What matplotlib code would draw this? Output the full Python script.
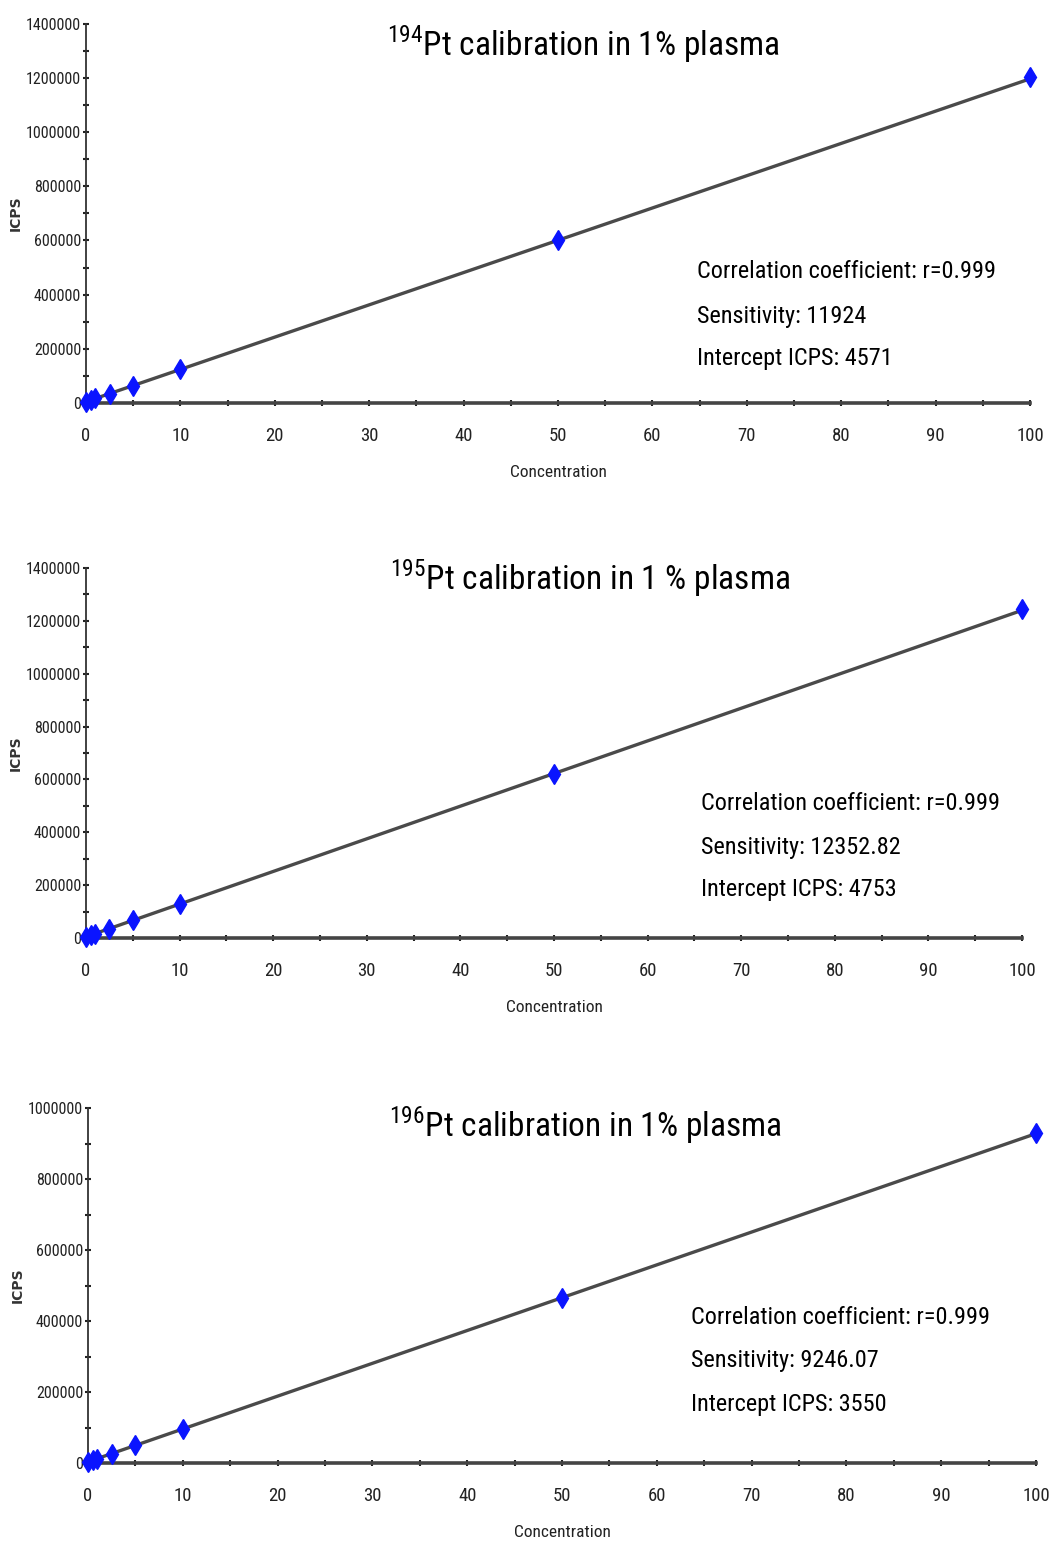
"""Pt isotope calibration curves in 1% plasma (ICP-MS)."""

import matplotlib

matplotlib.use('Agg')

import matplotlib.pyplot as plt
import numpy as np
from matplotlib import font_manager
from matplotlib.ticker import FuncFormatter, MultipleLocator

# --- data -----------------------------------------------------------------
concentration = [0, 0.5, 1, 2.5, 5, 10, 50, 100]

icps_194 = [4600, 10500, 16500, 34400, 64000, 124000, 600000, 1205000]
icps_195 = [4800, 11000, 17000, 35600, 66500, 128500, 622000, 1247000]
icps_196 = [3600, 8200, 12800, 26700, 49800, 96000, 466000, 931000]

isotopes = ['194', '195', '196']
plasma_labels = ['1%', '1 %', '1%']
correlation = ['0.999', '0.999', '0.999']
sensitivity = ['11924', '12352.82', '9246.07']
intercept = ['4571', '4753', '3550']
y_max = [1400000, 1400000, 1000000]

# --- fonts ----------------------------------------------------------------
available = {f.name for f in font_manager.fontManager.ttflist}
narrow = next(
    (name for name in ('Liberation Sans Narrow', 'Roboto Condensed',
                       'Open Sans Condensed', 'Liberation Sans')
     if name in available),
    'DejaVu Sans',
)
plt.rcParams['font.family'] = [narrow, 'DejaVu Sans']
plt.rcParams['mathtext.fontset'] = 'custom'
plt.rcParams['mathtext.rm'] = narrow

# axes rectangles in figure fraction
positions = [
    [0.0819, 0.7387, 0.8990, 0.2458],
    [0.0819, 0.3917, 0.8914, 0.2399],
    [0.0838, 0.0512, 0.9029, 0.2302],
]
# title centre and stats block (left x, line centres y) in figure pixels
title_px = [(583, 44), (590, 578), (585, 1125)]
stats_x = [697, 701, 691]
stats_y = [(271, 316, 358), (803, 847, 890), (1317, 1361, 1405)]

W, H = 1050, 1542
fig = plt.figure(figsize=(W / 100, H / 100), dpi=100)
plain = FuncFormatter(lambda v, _: f'{v:.0f}')

for i, icps in enumerate([icps_194, icps_195, icps_196]):
    ax = fig.add_axes(positions[i])

    xfit = np.array([0, 100])
    ax.plot(xfit, float(sensitivity[i]) * xfit + float(intercept[i]),
            color='#4a4a4a', lw=2.4, solid_capstyle='butt', zorder=2)
    ax.plot(0, 0, 'o', color='red', ms=4, zorder=2, clip_on=False)
    ax.plot(concentration, icps, linestyle='none', marker='d', ms=10,
            mfc='#0a14ff', mec='#0a14ff', zorder=3, clip_on=False)

    ax.set_xlim(0, 100)
    ax.set_ylim(0, y_max[i])
    ax.xaxis.set_major_locator(MultipleLocator(10))
    ax.xaxis.set_minor_locator(MultipleLocator(5))
    ax.yaxis.set_major_locator(MultipleLocator(200000))
    ax.yaxis.set_minor_locator(MultipleLocator(100000))
    ax.yaxis.set_major_formatter(plain)

    for side in ('top', 'right'):
        ax.spines[side].set_visible(False)
    ax.spines['left'].set_linewidth(1.3)
    ax.spines['left'].set_color('#333333')
    ax.spines['bottom'].set_linewidth(2.6)
    ax.spines['bottom'].set_color('#444444')

    ax.tick_params(which='both', direction='inout', color='#222222', width=1.5)
    ax.tick_params(which='major', length=5)
    ax.tick_params(which='minor', length=4)
    ax.tick_params(axis='x', labelsize=13.5, pad=15, labelcolor='#222222')
    ax.tick_params(axis='y', labelsize=11.5, pad=1, labelcolor='#222222')

    ax.set_xlabel('Concentration', fontsize=12.5, labelpad=14, color='#222222')
    ax.set_ylabel('ICPS', fontsize=10, family='DejaVu Sans', weight='bold',
                  labelpad=2, color='#333333')

    tx, ty = title_px[i]
    fig.text(tx / W, 1 - ty / H,
             rf'$^{{{isotopes[i]}}}$Pt calibration in {plasma_labels[i]} plasma',
             ha='center', va='center', fontsize=24)

    lines = [
        f'Correlation coefficient: r={correlation[i]}',
        f'Sensitivity: {sensitivity[i]}',
        f'Intercept ICPS: {intercept[i]}',
    ]
    for line, ly in zip(lines, stats_y[i]):
        fig.text(stats_x[i] / W, 1 - ly / H, line, ha='left', va='center',
                 fontsize=17.5)

fig.savefig('out.png', dpi=100, facecolor='white')
plt.close(fig)
